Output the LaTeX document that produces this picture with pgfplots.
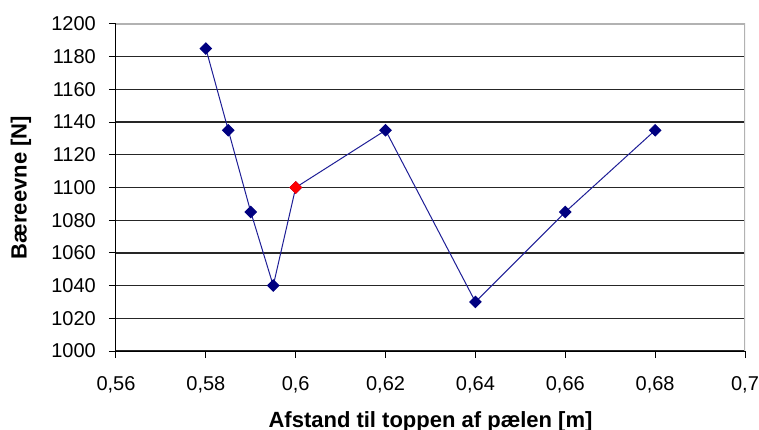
\documentclass[border=0pt]{standalone}
\usepackage{fontspec}
\setmainfont{Liberation Sans}
\usepackage{pgfplots}
\pgfplotsset{compat=1.18}
\definecolor{markblue}{RGB}{0,0,128}
\definecolor{lineblue}{RGB}{30,30,150}
\begin{document}
\begin{tikzpicture}
\begin{axis}[
 scale only axis, width=629bp, height=327bp,
 xmin=0.56, xmax=0.7, ymin=1000, ymax=1200,
 xtick={0.56,0.58,0.6,0.62,0.64,0.66,0.68,0.7},
 ytick={1000,1020,1040,1060,1080,1100,1120,1140,1160,1180,1200},
 axis lines=left,
 axis line style={-, black, line width=1bp},
 tick align=outside, major tick length=7bp,
 tick style={black, line width=1bp},
 ymajorgrids, major grid style={black!85, line width=1.2bp},
 /pgf/number format/use comma,
 /pgf/number format/1000 sep={},
 /pgf/number format/assume math mode=true,
 tick label style={font=\fontsize{20bp}{24bp}\selectfont, inner sep=0pt},
 xticklabel shift=18bp, yticklabel shift=13bp,
 label style={font=\bfseries\fontsize{22bp}{26bp}\selectfont},
 xlabel={Afstand til toppen af pælen [m]},
 ylabel={Bæreevne [N]},
 xlabel style={at={([yshift=-76bp]axis description cs:0.5,0)}, anchor=base},
 ylabel style={at={([xshift=-95bp]axis description cs:0,0.5)}, anchor=center, rotate=0},
]
\addplot[lineblue, line width=1bp, mark=square*, mark size=4bp,
  mark options={markblue, fill=markblue, rotate=45}] coordinates {
 (0.58,1185) (0.585,1135) (0.59,1085) (0.595,1040) (0.6,1100)
 (0.62,1135) (0.64,1030) (0.66,1085) (0.68,1135)
};
\addplot[only marks, mark=square*, mark size=4.3bp, red, mark options={fill=red, rotate=45}]
 coordinates {(0.6,1100)};
\draw[gray!60, line width=1.2bp] (rel axis cs:0,1) -- (rel axis cs:1,1) -- (rel axis cs:1,0);
\coordinate (A) at (rel axis cs:0,0);
\coordinate (B) at (rel axis cs:1,1);
\end{axis}
\pgfresetboundingbox
\useasboundingbox ([shift={(-116bp,-79bp)}]A) rectangle ([shift={(14bp,24bp)}]B);
\end{tikzpicture}
\end{document}
